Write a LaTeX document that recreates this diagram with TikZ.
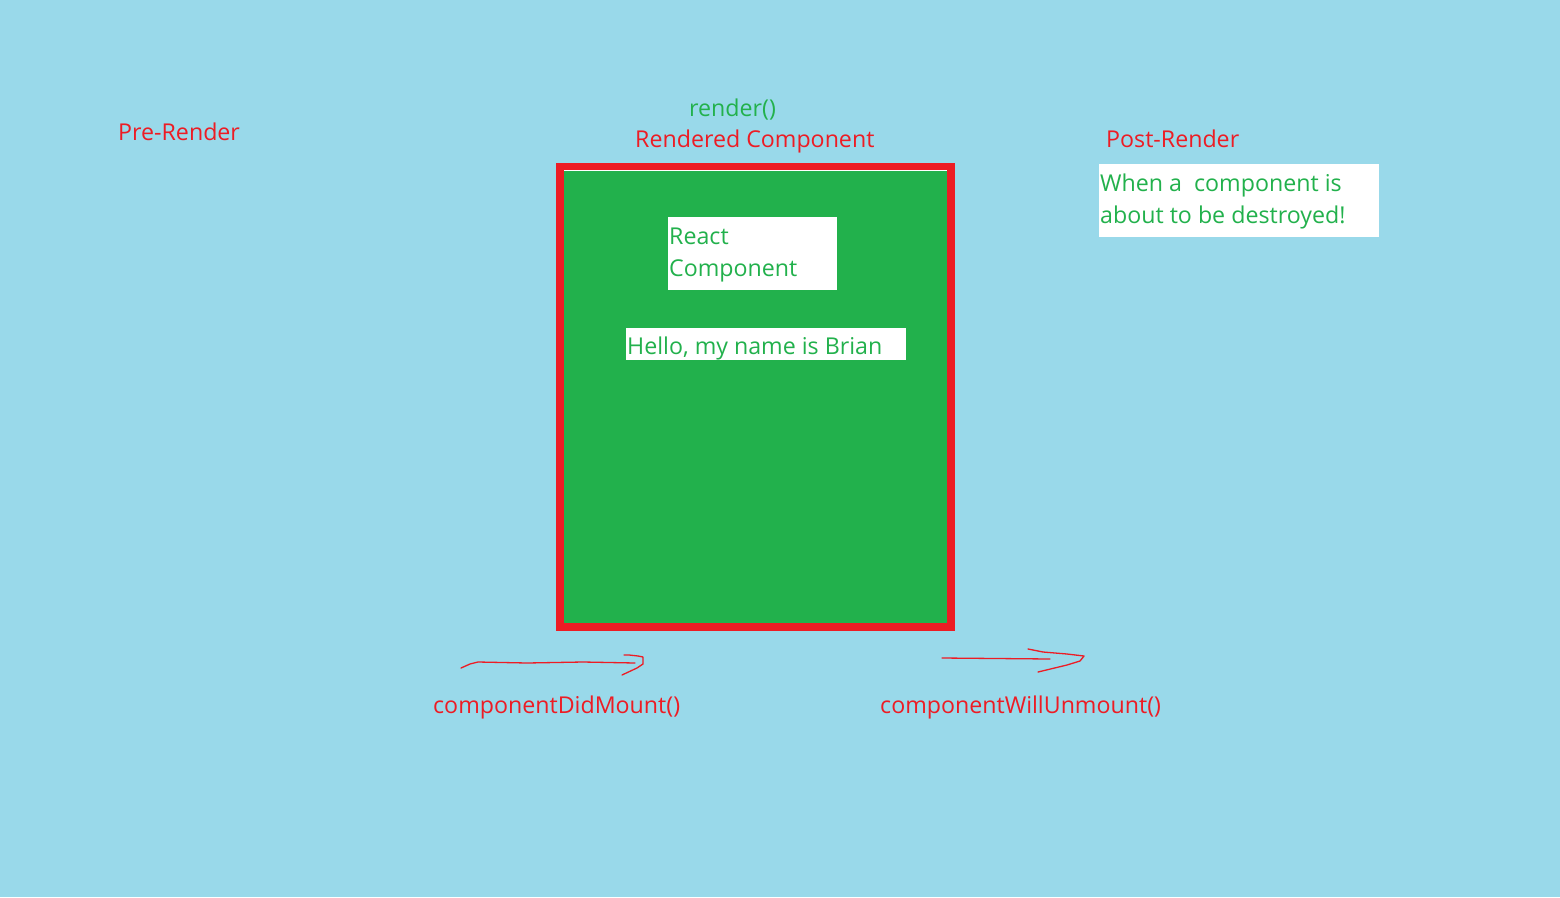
\documentclass[tikz,border=0pt]{standalone}
\usepackage{fontspec}
\setmainfont{Open Sans}
\definecolor{bgblue}{HTML}{99D9EA}
\definecolor{pred}{HTML}{ED1C24}
\definecolor{pgreen}{HTML}{22B14C}
\begin{document}
\begin{tikzpicture}[x=1pt,y=-1pt,
  lbl/.style={anchor=base west,inner sep=0pt,font=\fontsize{23.2}{32}\selectfont},
  redlbl/.style={lbl,text=pred},
  greenlbl/.style={lbl,text=pgreen},
  wbox/.style={fill=white,draw=none,inner sep=0pt,anchor=north west},
  stroke/.style={draw=pred,line width=1.3pt,line cap=round,line join=round}]
\fill[bgblue] (0,0) rectangle (1560,897);
\useasboundingbox (0,0) rectangle (1560,897);
% main component box
\node[fill=pred,inner sep=0pt,anchor=north west,minimum width=399pt,minimum height=468pt] (outer) at (556,163) {};
\node[fill=white,inner sep=0pt,anchor=north west,minimum width=383pt,minimum height=2pt] (topline) at (564,170) {};
\node[fill=pgreen,inner sep=0pt,anchor=north west,minimum width=383pt,minimum height=452pt] (inner) at (564,171) {};
% white boxes
\node[wbox,minimum width=169pt,minimum height=73pt] (reactbox) at (668,217) {};
\node[wbox,minimum width=280pt,minimum height=32pt] (hellobox) at (626,328) {};
\node[wbox,minimum width=280pt,minimum height=73pt] (postbox) at (1099,164) {};
% texts
\node[redlbl] (pre) at (118,140.5) {Pre-Render};
\node[greenlbl] (render) at (689,116.5) {render()};
\node[redlbl] (rendered) at (635,147.5) {Rendered Component};
\node[greenlbl] (react) at (669,244) {React};
\node[greenlbl] (comp) at (669,276.5) {Component};
\node[greenlbl] (hello) at (627,354) {Hello, my name is Brian};
\node[redlbl] (post) at (1106,147.5) {Post-Render};
\node[greenlbl] (when1) at (1100,191) {When a~ component is};
\node[greenlbl] (when2) at (1100,223.5) {about to be destroyed!};
\node[redlbl] (didmount) at (433,713) {componentDidMount()};
\node[redlbl] (willunmount) at (880,713) {componentWillUnmount()};
% hand-drawn arrow 1
\coordinate (a1s) at (461,668);
\coordinate (a1e) at (635,663);
\draw[stroke] (a1s) -- (470,664) -- (478,662) -- (527,663) -- (583,662) -- (a1e);
\coordinate (h1s) at (624,655);
\coordinate (h1e) at (622,675);
\draw[stroke] (h1s) -- (629,655) -- (638,656) -- (643,657) -- (643,664) -- (637,668) -- (h1e);
% hand-drawn arrow 2
\coordinate (a2s) at (942,658);
\coordinate (a2e) at (1050,659);
\draw[stroke] (a2s) -- (a2e);
\coordinate (h2s) at (1028,649);
\coordinate (h2e) at (1038,672);
\draw[stroke] (h2s) -- (1043,652) -- (1067,654) -- (1084,656) -- (1080,661) -- (1067,665) -- (h2e);
\end{tikzpicture}
\end{document}
